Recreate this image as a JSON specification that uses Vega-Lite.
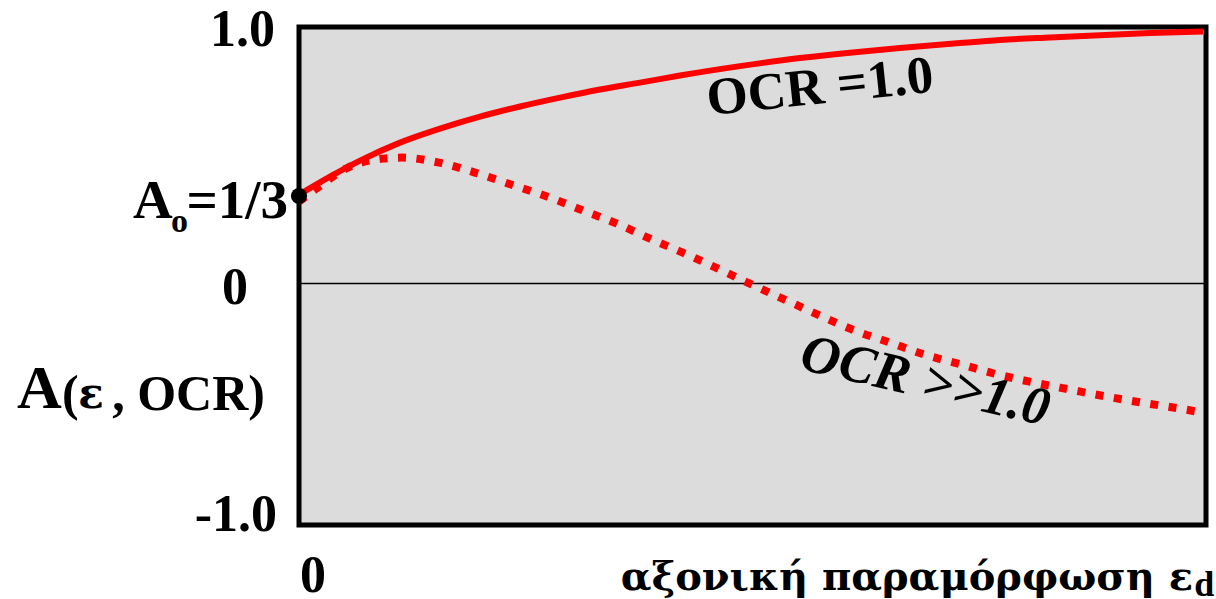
{
  "$schema": "https://vega.github.io/schema/vega-lite/v6.json",
  "width": 907,
  "height": 498,
  "autosize": {"type": "none"},
  "padding": {"left": 299, "top": 27, "right": 10, "bottom": 74},
  "background": "white",
  "config": {
    "view": {"fill": "#dcdcdc", "stroke": "black", "strokeWidth": 5},
    "text": {"font": "Liberation Serif", "fontWeight": "bold", "color": "black"}
  },
  "datasets": {
    "ocr1": [
      {"x": 0.0, "y": 0.350}, {"x": 0.342, "y": 0.421}, {"x": 0.673, "y": 0.484},
      {"x": 1.114, "y": 0.555}, {"x": 1.555, "y": 0.610}, {"x": 1.996, "y": 0.657},
      {"x": 2.437, "y": 0.697}, {"x": 2.878, "y": 0.732}, {"x": 3.319, "y": 0.764},
      {"x": 3.760, "y": 0.791}, {"x": 4.201, "y": 0.819}, {"x": 4.862, "y": 0.856},
      {"x": 5.524, "y": 0.888}, {"x": 6.075, "y": 0.909}, {"x": 6.626, "y": 0.927},
      {"x": 7.288, "y": 0.947}, {"x": 7.729, "y": 0.959}, {"x": 8.280, "y": 0.969},
      {"x": 8.831, "y": 0.978}, {"x": 9.383, "y": 0.986}, {"x": 9.967, "y": 0.992}
    ],
    "ocrbig": [
      {"x": 0.0, "y": 0.323}, {"x": 0.176, "y": 0.370}, {"x": 0.540, "y": 0.457},
      {"x": 0.926, "y": 0.492}, {"x": 1.136, "y": 0.496}, {"x": 1.544, "y": 0.476},
      {"x": 1.940, "y": 0.437}, {"x": 2.337, "y": 0.390}, {"x": 2.734, "y": 0.343},
      {"x": 3.109, "y": 0.291}, {"x": 3.506, "y": 0.236}, {"x": 3.870, "y": 0.177},
      {"x": 4.256, "y": 0.118}, {"x": 4.620, "y": 0.059}, {"x": 4.994, "y": -0.004},
      {"x": 5.380, "y": -0.067}, {"x": 5.744, "y": -0.126}, {"x": 6.130, "y": -0.185},
      {"x": 6.516, "y": -0.232}, {"x": 6.902, "y": -0.280}, {"x": 7.310, "y": -0.319},
      {"x": 7.707, "y": -0.358}, {"x": 8.115, "y": -0.390}, {"x": 8.501, "y": -0.417},
      {"x": 8.909, "y": -0.445}, {"x": 9.306, "y": -0.469}, {"x": 9.713, "y": -0.492},
      {"x": 9.967, "y": -0.508}
    ]
  },
  "layer": [
    {
      "data": {"values": [{"y": 0}]},
      "mark": {"type": "rule", "color": "black", "strokeWidth": 1.5},
      "encoding": {
        "y": {"field": "y", "type": "quantitative", "scale": {"domain": [-0.95, 1.01], "nice": false, "zero": false}, "axis": null}
      }
    },
    {
      "data": {"name": "ocrbig"},
      "mark": {"type": "line", "color": "#ff0000", "strokeWidth": 8, "strokeDash": [8, 10.5], "strokeCap": "butt", "interpolate": "monotone"},
      "encoding": {
        "x": {"field": "x", "type": "quantitative", "scale": {"domain": [0, 10], "nice": false, "zero": false}, "axis": null},
        "y": {"field": "y", "type": "quantitative", "scale": {"domain": [-0.95, 1.01], "nice": false, "zero": false}, "axis": null}
      }
    },
    {
      "data": {"name": "ocr1"},
      "mark": {"type": "line", "color": "#ff0000", "strokeWidth": 6, "interpolate": "monotone"},
      "encoding": {
        "x": {"field": "x", "type": "quantitative", "scale": {"domain": [0, 10], "nice": false, "zero": false}, "axis": null},
        "y": {"field": "y", "type": "quantitative", "scale": {"domain": [-0.95, 1.01], "nice": false, "zero": false}, "axis": null}
      }
    },
    {
      "data": {"values": [{"x": 0, "y": 0.345}]},
      "mark": {"type": "point", "filled": true, "color": "black", "size": 260, "opacity": 1},
      "encoding": {
        "x": {"field": "x", "type": "quantitative", "scale": {"domain": [0, 10], "nice": false, "zero": false}, "axis": null},
        "y": {"field": "y", "type": "quantitative", "scale": {"domain": [-0.95, 1.01], "nice": false, "zero": false}, "axis": null}
      }
    },
    {
      "data": {"values": [
        {"x": -0.265, "y": 1.0, "label": "1.0"},
        {"x": -0.562, "y": -0.016, "label": "0"},
        {"x": -0.243, "y": -0.909, "label": "-1.0"}
      ]},
      "mark": {"type": "text", "fontSize": 52, "align": "right", "baseline": "middle"},
      "encoding": {
        "x": {"field": "x", "type": "quantitative", "scale": {"domain": [0, 10], "nice": false, "zero": false}, "axis": null},
        "y": {"field": "y", "type": "quantitative", "scale": {"domain": [-0.95, 1.01], "nice": false, "zero": false}, "axis": null},
        "text": {"field": "label"}
      }
    },
    {
      "data": {"values": [{"x": 0.154, "y": -1.150, "label": "0"}]},
      "mark": {"type": "text", "fontSize": 52, "align": "center", "baseline": "middle"},
      "encoding": {
        "x": {"field": "x", "type": "quantitative", "scale": {"domain": [0, 10], "nice": false, "zero": false}, "axis": null},
        "y": {"field": "y", "type": "quantitative", "scale": {"domain": [-0.95, 1.01], "nice": false, "zero": false}, "axis": null},
        "text": {"field": "label"}
      }
    },
    {
      "data": {"values": [{"x": -0.121, "y": 0.327, "label": "=1/3"}]},
      "mark": {"type": "text", "fontSize": 55, "align": "right", "baseline": "middle"},
      "encoding": {
        "x": {"field": "x", "type": "quantitative", "scale": {"domain": [0, 10], "nice": false, "zero": false}, "axis": null},
        "y": {"field": "y", "type": "quantitative", "scale": {"domain": [-0.95, 1.01], "nice": false, "zero": false}, "axis": null},
        "text": {"field": "label"}
      }
    },
    {
      "data": {"values": [{"x": -1.830, "y": 0.327, "label": "A"}]},
      "mark": {"type": "text", "fontSize": 55, "align": "left", "baseline": "middle"},
      "encoding": {
        "x": {"field": "x", "type": "quantitative", "scale": {"domain": [0, 10], "nice": false, "zero": false}, "axis": null},
        "y": {"field": "y", "type": "quantitative", "scale": {"domain": [-0.95, 1.01], "nice": false, "zero": false}, "axis": null},
        "text": {"field": "label"}
      }
    },
    {
      "data": {"values": [{"x": -1.410, "y": 0.244, "label": "o"}]},
      "mark": {"type": "text", "fontSize": 34, "align": "left", "baseline": "middle"},
      "encoding": {
        "x": {"field": "x", "type": "quantitative", "scale": {"domain": [0, 10], "nice": false, "zero": false}, "axis": null},
        "y": {"field": "y", "type": "quantitative", "scale": {"domain": [-0.95, 1.01], "nice": false, "zero": false}, "axis": null},
        "text": {"field": "label"}
      }
    },
    {
      "data": {"values": [{"x": -3.109, "y": -0.413, "label": "A"}]},
      "mark": {"type": "text", "fontSize": 62, "align": "left", "baseline": "middle"},
      "encoding": {
        "x": {"field": "x", "type": "quantitative", "scale": {"domain": [0, 10], "nice": false, "zero": false}, "axis": null},
        "y": {"field": "y", "type": "quantitative", "scale": {"domain": [-0.95, 1.01], "nice": false, "zero": false}, "axis": null},
        "text": {"field": "label"}
      }
    },
    {
      "data": {"values": [{"x": -2.613, "y": -0.437, "label": "("}]},
      "mark": {"type": "text", "fontSize": 50, "align": "left", "baseline": "middle"},
      "encoding": {
        "x": {"field": "x", "type": "quantitative", "scale": {"domain": [0, 10], "nice": false, "zero": false}, "axis": null},
        "y": {"field": "y", "type": "quantitative", "scale": {"domain": [-0.95, 1.01], "nice": false, "zero": false}, "axis": null},
        "text": {"field": "label"}
      }
    },
    {
      "data": {"values": [{"x": -2.293, "y": -0.437, "label": "ε"}]},
      "mark": {"type": "text", "font": "DejaVu Serif", "fontSize": 42, "align": "center", "baseline": "middle"},
      "encoding": {
        "x": {"field": "x", "type": "quantitative", "scale": {"domain": [0, 10], "nice": false, "zero": false}, "axis": null},
        "y": {"field": "y", "type": "quantitative", "scale": {"domain": [-0.95, 1.01], "nice": false, "zero": false}, "axis": null},
        "text": {"field": "label"}
      }
    },
    {
      "data": {"values": [{"x": -0.375, "y": -0.437, "label": ", OCR)"}]},
      "mark": {"type": "text", "fontSize": 50, "align": "right", "baseline": "middle"},
      "encoding": {
        "x": {"field": "x", "type": "quantitative", "scale": {"domain": [0, 10], "nice": false, "zero": false}, "axis": null},
        "y": {"field": "y", "type": "quantitative", "scale": {"domain": [-0.95, 1.01], "nice": false, "zero": false}, "axis": null},
        "text": {"field": "label"}
      }
    },
    {
      "data": {"values": [{"x": 9.857, "y": -1.205, "label": "αξονική παραμόρφωση ε"}]},
      "mark": {"type": "text", "font": "DejaVu Serif", "fontSize": 40, "align": "right", "baseline": "alphabetic"},
      "encoding": {
        "x": {"field": "x", "type": "quantitative", "scale": {"domain": [0, 10], "nice": false, "zero": false}, "axis": null},
        "y": {"field": "y", "type": "quantitative", "scale": {"domain": [-0.95, 1.01], "nice": false, "zero": false}, "axis": null},
        "text": {"field": "label"}
      }
    },
    {
      "data": {"values": [{"x": 9.87, "y": -1.228, "label": "d"}]},
      "mark": {"type": "text", "fontSize": 36, "align": "left", "baseline": "alphabetic"},
      "encoding": {
        "x": {"field": "x", "type": "quantitative", "scale": {"domain": [0, 10], "nice": false, "zero": false}, "axis": null},
        "y": {"field": "y", "type": "quantitative", "scale": {"domain": [-0.95, 1.01], "nice": false, "zero": false}, "axis": null},
        "text": {"field": "label"}
      }
    },
    {
      "data": {"values": [{"x": 5.744, "y": 0.772, "label": "OCR =1.0"}]},
      "mark": {"type": "text", "fontSize": 53, "align": "center", "baseline": "middle", "angle": -6},
      "encoding": {
        "x": {"field": "x", "type": "quantitative", "scale": {"domain": [0, 10], "nice": false, "zero": false}, "axis": null},
        "y": {"field": "y", "type": "quantitative", "scale": {"domain": [-0.95, 1.01], "nice": false, "zero": false}, "axis": null},
        "text": {"field": "label"}
      }
    },
    {
      "data": {"values": [{"x": 6.902, "y": -0.386, "label": "OCR >>1.0"}]},
      "mark": {"type": "text", "fontSize": 54, "fontStyle": "italic", "align": "center", "baseline": "middle", "angle": 13},
      "encoding": {
        "x": {"field": "x", "type": "quantitative", "scale": {"domain": [0, 10], "nice": false, "zero": false}, "axis": null},
        "y": {"field": "y", "type": "quantitative", "scale": {"domain": [-0.95, 1.01], "nice": false, "zero": false}, "axis": null},
        "text": {"field": "label"}
      }
    }
  ]
}
